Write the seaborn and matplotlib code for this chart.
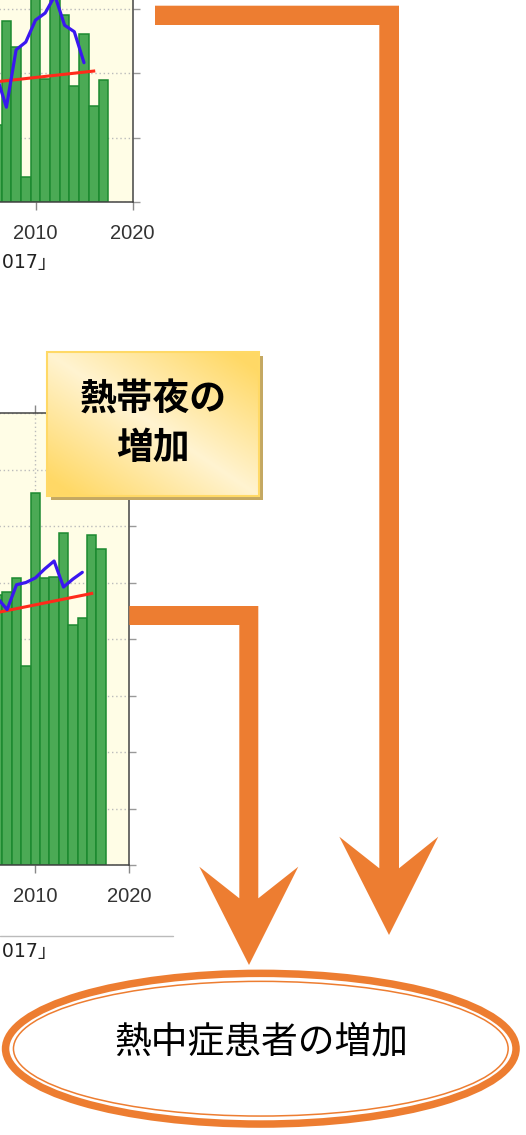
import numpy as np
import pandas as pd
import matplotlib
matplotlib.use("Agg")
import matplotlib.pyplot as plt
from matplotlib.patches import Polygon, Ellipse, Rectangle
import seaborn as sns

# ---------------- data ----------------
hot_years = list(range(2006, 2018))
hot_days = [1.19, 2.81, 2.41, 0.39, 4.90, 1.91, 4.49, 2.90, 1.80, 2.60, 1.49, 1.89]
hot_mean_years = list(range(2006, 2016))
hot_mean = [1.95, 1.47, 2.36, 2.48, 2.82, 2.93, 3.20, 2.74, 2.64, 2.16]
hot_trend_years = [1931, 2016]
hot_trend = [0.62, 2.03]

night_years = list(range(2006, 2018))
night_days = [23.9, 24.2, 25.4, 17.6, 32.9, 25.4, 25.5, 29.4, 21.2, 21.9, 29.2, 28.0]
night_mean_years = list(range(2006, 2016))
night_mean = [23.6, 22.6, 24.8, 25.0, 25.4, 26.2, 26.9, 24.6, 25.3, 25.9]
night_trend_years = [1931, 2016]
night_trend = [9.75, 24.03]

x_ticks = [2010, 2020]
x_tick_labels = ["2010", "2020"]
x_grid_years = [2000, 2010]
hot_yticks = [0, 1, 2, 3, 4]
night_yticks = [0, 5, 10, 15, 20, 25, 30, 35, 40]
box_label = "熱帯夜の\n増加"
result_label = "熱中症患者の増加"
source_label = "出典：気象庁「気候変動監視レポート2017」"

# ---------------- style ----------------
sns.set_theme(style="ticks")
plt.rcParams['font.family'] = ['Noto Sans CJK JP', 'DejaVu Sans']

W, H = 526, 1135
fig = plt.figure(figsize=(W / 100, H / 100), dpi=100)
fig.patch.set_facecolor("white")

BAR = "#4BAA55"
BAR_EDGE = "#1C8A30"
BLUE = "#3A17F0"
RED = "#FF2A1A"
BG = "#FFFDE6"
ORANGE = "#ED7D31"
GRID = dict(color="#BBBBBB", linestyle=(0, (1, 2)), lw=1.0)


def make_chart(rect, years, vals, myears, mvals, tyears, tvals, yticks, ylim):
    ax = fig.add_axes(rect)
    ax.set_facecolor(BG)
    sns.barplot(x=years, y=vals, native_scale=True, width=1.0, color=BAR,
                saturation=1, edgecolor=BAR_EDGE, linewidth=1.1, ax=ax,
                errorbar=None, zorder=2)
    sns.lineplot(x=tyears, y=tvals, color=RED, lw=2.2, ax=ax, zorder=3,
                 solid_capstyle='projecting')
    sns.lineplot(x=myears, y=mvals, color=BLUE, lw=2.3, ax=ax, zorder=4)
    ax.set_xlim(1990, 2020)
    ax.set_ylim(*ylim)
    ax.set_xticks(x_ticks)
    ax.set_xticklabels(x_tick_labels)
    ax.set_yticks(yticks)
    ax.set_axisbelow(True)
    ax.grid(False)
    ax.yaxis.grid(True, **GRID)
    for gx in x_grid_years:
        ax.axvline(gx, zorder=0.5, **GRID)
    for s in ax.spines.values():
        s.set_visible(True)
        s.set_color("#444444")
        s.set_linewidth(1.1)
    ax.tick_params(axis='x', which='both', direction='out', length=5.5, width=1,
                   color="#888888", top=True, bottom=True, pad=10,
                   labelsize=14.5, labelcolor="#333333",
                   labelfontfamily='Liberation Sans')
    ax.tick_params(axis='y', which='both', direction='out', length=5, width=1,
                   color="#999999", left=True, right=True,
                   labelleft=False, labelright=False)
    ax.set_xlabel("")
    ax.set_ylabel("")
    return ax


# top chart (partially cut off at the left and top)
px_top = 9.7
right_top = 132.5
w_top = 30 * px_top
make_chart([(right_top - w_top) / W, (H - 202) / H, w_top / W, 258 / H],
           hot_years, hot_days, hot_mean_years, hot_mean,
           hot_trend_years, hot_trend, hot_yticks, (0, 4))

# bottom chart
px_bot = 9.4
right_bot = 129.3
w_bot = 30 * px_bot
make_chart([(right_bot - w_bot) / W, (H - 865) / H, w_bot / W, 452 / H],
           night_years, night_days, night_mean_years, night_mean,
           night_trend_years, night_trend, night_yticks, (0, 40))

# ---------------- overlay (diagram) ----------------
ov = fig.add_axes([0, 0, 1, 1], zorder=10)
ov.patch.set_alpha(0)
ov.axis('off')

CAP_FONT = ['DejaVu Sans', 'Noto Sans CJK JP']
ov.text(58, 262, source_label, ha='right', va='center', fontsize=13.6,
        color="#222222", family=CAP_FONT)
ov.plot([0, 173], [936, 936], color="#BBBBBB", lw=1)
ov.text(58, 951, source_label, ha='right', va='center', fontsize=13.6,
        color="#222222", family=CAP_FONT)

# arrows
arrow1 = [(155, 5.7), (399, 5.7), (399, 868.3), (438.3, 836.7), (389, 935),
          (339.3, 836.7), (379.3, 868.3), (379.3, 25), (155, 25)]
arrow2 = [(129.3, 606), (258.3, 606), (258.3, 898.3), (298.3, 866.7),
          (249, 965), (199.3, 866.7), (239.3, 898.3), (239.3, 625),
          (129.3, 625)]
for pts in (arrow1, arrow2):
    ov.add_patch(Polygon(pts, closed=True, facecolor=ORANGE, edgecolor='none'))

# text box with shadow and gradient
bx0, bx1, by0, by1 = 47, 259, 352, 496
ov.add_patch(Rectangle((bx0 + 3.5, by0 + 3.5), bx1 - bx0, by1 - by0,
                       facecolor="#C4A862", edgecolor='none'))
u = np.linspace(0, 1, 200)[None, :]
v = np.linspace(0, 1, 140)[:, None]
t = np.clip(np.abs(u - v) * 1.15, 0, 1)
light = np.array([1.0, 0.955, 0.82])
sat = np.array([1.0, 0.85, 0.40])
grad = light[None, None, :] + t[..., None] * (sat - light)[None, None, :]
ov.imshow(grad, extent=(bx0, bx1, by1, by0), origin='upper', aspect='auto',
          zorder=2, interpolation='bilinear')
ov.add_patch(Rectangle((bx0, by0), bx1 - bx0, by1 - by0, facecolor='none',
                       edgecolor="#FFD966", lw=1.5, zorder=3))
ov.text((bx0 + bx1) / 2, 424, box_label, ha='center', va='center',
        fontsize=26.5, fontweight='bold', color='black', linespacing=1.38,
        zorder=4)

# result ellipse
ov.add_patch(Ellipse((260.8, 1048.7), 510.5, 150.7, facecolor='white',
                     edgecolor=ORANGE, lw=5.4, zorder=2))
ov.add_patch(Ellipse((260.8, 1048.7), 494.7, 134.7, facecolor='none',
                     edgecolor=ORANGE, lw=1.1, zorder=3))
ov.text(261, 1042, result_label, ha='center', va='center', fontsize=26.5,
        color='black', zorder=4)

ov.set_xlim(0, W)
ov.set_ylim(H, 0)

fig.savefig("out.png", dpi=100, facecolor="white")
